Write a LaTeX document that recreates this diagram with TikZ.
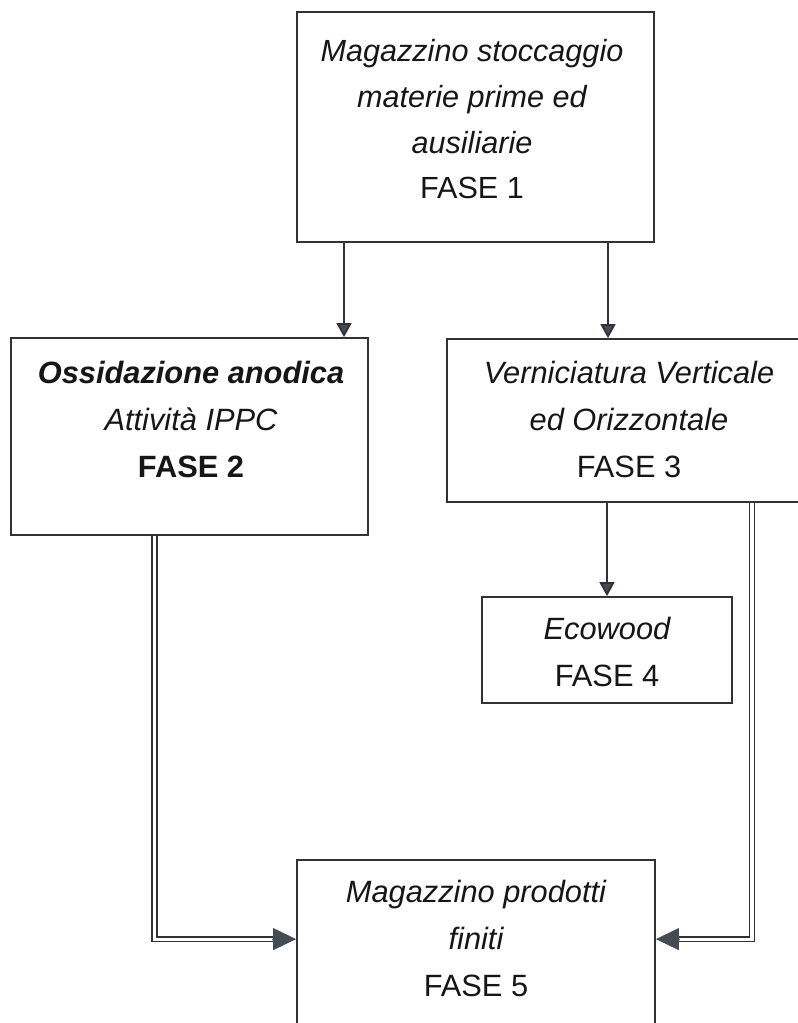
\documentclass[tikz,border=0pt]{standalone}
\usepackage{fontspec}
\setmainfont{Liberation Sans}
\usetikzlibrary{arrows.meta,positioning}

\definecolor{linegray}{RGB}{50,50,54}
\definecolor{tipgray}{RGB}{68,75,83}
\definecolor{inkgray}{RGB}{22,22,22}

\tikzset{
  fasebox/.style={draw=linegray, line width=1.8pt, rectangle, inner sep=0pt},
  fasetxt/.style={align=center, text=inkgray, font=\fontsize{30.8}{47}\selectfont\itshape},
  arr/.style={draw=linegray, line width=1.8pt, -{Triangle[length=14pt,width=15pt,fill=tipgray]}},
  dbl/.style={draw=linegray, line width=1.7pt, double=white, double distance=3.2pt},
  dbltip/.style={draw=tipgray, line width=0.8pt, -{Triangle[length=23pt,width=22pt,fill=tipgray]}}
}

\begin{document}
\begin{tikzpicture}[x=1pt, y=-1pt]
 \path[use as bounding box, fill=white] (0,0) rectangle (798,1023);
 % boxes
 \node[fasebox, minimum width=357pt, minimum height=230pt] (mag) at (475.5,127) {};
 \node[fasebox, minimum width=357pt, minimum height=197pt] (ox) at (189.5,436.5) {};
 \node[fasebox, minimum width=364pt, minimum height=163pt] (vern) at (629,420.5) {};
 \node[fasebox, minimum width=250pt, minimum height=106pt] (eco) at (607,650) {};
 \node[fasebox, minimum width=358pt, minimum height=180pt] (fin) at (476,950) {};
 % texts
 \node[fasetxt, font=\fontsize{30.6}{45.7}\selectfont\itshape] (magtxt) at (472,119.5)
   {Magazzino stoccaggio\\materie prime ed\\ausiliarie\\\upshape FASE 1};
 \node[fasetxt] (oxtxt) at (191,419)
   {\textbf{Ossidazione anodica}\\Attività IPPC\\\upshape\bfseries FASE 2};
 \node[fasetxt] (verntxt) at (629,419)
   {Verniciatura Verticale\\ed Orizzontale\\\upshape FASE 3};
 \node[fasetxt] (ecotxt) at (607,652)
   {Ecowood\\\upshape FASE 4};
 \node[fasetxt] (fintxt) at (476,938)
   {Magazzino prodotti\\finiti\\\upshape FASE 5};
 % single arrows
 \draw[arr] ([xshift=-131.5pt]mag.south) coordinate (m1) -- (m1 |- ox.north);
 \draw[arr] ([xshift=132.5pt]mag.south) coordinate (m2) -- (m2 |- vern.north);
 \draw[arr] (vern.south -| eco.north) -- (eco.north);
 % double connectors to the store
 \draw[dbl] ([xshift=-35pt]ox.south) |- ([xshift=-12pt,yshift=-80pt]fin.north west);
 \draw[dbltip] ([xshift=-24pt,yshift=-80pt]fin.north west) -- ([yshift=-80pt]fin.north west);
 \draw[dbl] ([xshift=123pt]vern.south) |- ([xshift=12pt,yshift=-80pt]fin.north east);
 \draw[dbltip] ([xshift=24pt,yshift=-80pt]fin.north east) -- ([yshift=-80pt]fin.north east);
\end{tikzpicture}
\end{document}
